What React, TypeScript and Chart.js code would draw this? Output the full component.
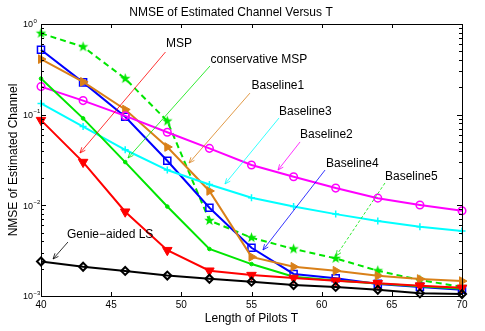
import React, { useEffect, useRef } from 'react';
import { Chart, registerables } from 'chart.js';

Chart.register(...registerables);

// ---------- data ----------
const pilotLengths = [40, 43, 46, 49, 52, 55, 58, 61, 64, 67, 70];
const msp = [0.087, 0.030, 0.0085, 0.0032, 0.0019, 0.0017, 0.00158, 0.00147, 0.00138, 0.0013, 0.00123];
const conservativeMsp = [0.25, 0.091, 0.030, 0.0097, 0.0033, 0.00225, 0.00163, 0.00148, 0.00137, 0.00128, 0.0012];
const baseline1 = [0.41, 0.23, 0.114, 0.044, 0.0144, 0.0027, 0.0021, 0.0019, 0.00167, 0.00154, 0.00146];
const baseline2 = [0.204, 0.143, 0.097, 0.064, 0.0425, 0.0279, 0.0207, 0.0155, 0.012, 0.0101, 0.0087];
const baseline3 = [0.133, 0.074, 0.041, 0.0245, 0.017, 0.0121, 0.0097, 0.008, 0.0067, 0.0058, 0.0052];
const baseline4 = [0.52, 0.227, 0.095, 0.031, 0.0094, 0.0034, 0.00175, 0.00157, 0.00136, 0.00126, 0.00117];
const baseline5 = [0.79, 0.56, 0.25, 0.085, 0.0068, 0.0044, 0.0033, 0.0026, 0.0019, 0.0015, 0.00126];
const genieLs = [0.0024, 0.0021, 0.00189, 0.00168, 0.00155, 0.00144, 0.00132, 0.00126, 0.00117, 0.00107, 0.00105];

const xTickValues = [40, 45, 50, 55, 60, 65, 70];
const yTickExponents = [0, -1, -2, -3];

// annotations (data coordinates)
const annotLabels = ['MSP', 'conservative MSP', 'Baseline1', 'Baseline3', 'Baseline2', 'Baseline4', 'Baseline5', 'Genie\u2212aided LS'];
const annotTextX = [48.91, 52.08, 55.0, 56.96, 58.46, 60.31, 64.51, 41.85];
const annotTextY = [0.602, 0.401, 0.207, 0.107, 0.0597, 0.0286, 0.0205, 0.00471];
const arrowFromX = [48.87, 52.04, 54.89, 56.96, 58.46, 60.24, 64.51, 41.92];
const arrowFromY = [0.491, 0.344, 0.173, 0.0919, 0.05, 0.0245, 0.01763, 0.00394];
const arrowToX = [42.78, 46.2, 50.55, 53.11, 56.89, 55.82, 61.02, 40.86];
const arrowToY = [0.0378, 0.0333, 0.0293, 0.0172, 0.0245, 0.00322, 0.00276, 0.00256];

const RED = '#ff0000';
const GREEN = '#00e600';
const ORANGE = '#d98019';
const CYAN = '#00ffff';
const MAGENTA = '#ff00ff';
const BLUE = '#0000ff';
const BLACK = '#000000';
const annotColors = [RED, GREEN, ORANGE, CYAN, MAGENTA, BLUE, GREEN, BLACK];
const annotDashed = [false, false, false, false, false, false, true, false];

const FONT = '"Liberation Sans", Arial, Helvetica, sans-serif';

function makeStar(color: string, r: number) {
  const c = document.createElement('canvas');
  const s = Math.ceil(r * 2 + 2);
  c.width = s;
  c.height = s;
  const g = c.getContext('2d')!;
  g.fillStyle = color;
  g.beginPath();
  for (let i = 0; i < 10; i++) {
    const rad = i % 2 === 0 ? r : r * 0.42;
    const a = -Math.PI / 2 + (i * Math.PI) / 5;
    g.lineTo(s / 2 + rad * Math.cos(a), s / 2 + rad * Math.sin(a));
  }
  g.closePath();
  g.fill();
  return c;
}

const decorPlugin = {
  id: 'matlabDecor',
  afterDatasetsDraw(chart: any) {
    const { ctx, chartArea, scales } = chart;
    const { left, right, top, bottom } = chartArea;
    const x = scales.x;
    const y = scales.y;
    ctx.save();
    // box
    ctx.strokeStyle = '#000';
    ctx.lineWidth = 1;
    ctx.strokeRect(Math.round(left) + 0.5, Math.round(top) + 0.5, Math.round(right - left), Math.round(bottom - top));
    // x ticks (inward, top & bottom)
    ctx.beginPath();
    xTickValues.forEach((v) => {
      const px = Math.round(x.getPixelForValue(v)) + 0.5;
      ctx.moveTo(px, bottom);
      ctx.lineTo(px, bottom - 4);
      ctx.moveTo(px, top);
      ctx.lineTo(px, top + 4);
    });
    // y ticks major/minor on left & right
    yTickExponents.forEach((e) => {
      const py = Math.round(y.getPixelForValue(Math.pow(10, e))) + 0.5;
      ctx.moveTo(left, py);
      ctx.lineTo(left + 5, py);
      ctx.moveTo(right, py);
      ctx.lineTo(right - 5, py);
      if (e < 0) {
        for (let m = 2; m <= 9; m++) {
          const pm = Math.round(y.getPixelForValue(m * Math.pow(10, e))) + 0.5;
          ctx.moveTo(left, pm);
          ctx.lineTo(left + 3, pm);
          ctx.moveTo(right, pm);
          ctx.lineTo(right - 3, pm);
        }
      }
    });
    ctx.stroke();

    // y tick labels 10^e
    ctx.fillStyle = '#000';
    yTickExponents.forEach((e) => {
      const py = y.getPixelForValue(Math.pow(10, e));
      ctx.font = `9px ${FONT}`;
      ctx.textAlign = 'right';
      ctx.textBaseline = 'middle';
      ctx.fillText('10', 33, py + 1);
      ctx.font = `6px ${FONT}`;
      ctx.textAlign = 'left';
      ctx.fillText(e === 0 ? '0' : '\u2212' + String(-e), 33.5, py - 3);
    });

    // annotations
    annotLabels.forEach((label, i) => {
      const fx = x.getPixelForValue(arrowFromX[i]);
      const fy = y.getPixelForValue(arrowFromY[i]);
      const tx = x.getPixelForValue(arrowToX[i]);
      const ty = y.getPixelForValue(arrowToY[i]);
      ctx.strokeStyle = annotColors[i];
      ctx.fillStyle = annotColors[i];
      ctx.lineWidth = 0.8;
      ctx.setLineDash(annotDashed[i] ? [3, 2] : []);
      ctx.beginPath();
      ctx.moveTo(fx, fy);
      ctx.lineTo(tx, ty);
      ctx.stroke();
      ctx.setLineDash([]);
      const ang = Math.atan2(ty - fy, tx - fx);
      const hl = 6;
      const hw = 0.4;
      ctx.beginPath();
      ctx.moveTo(tx, ty);
      ctx.lineTo(tx - hl * Math.cos(ang - hw), ty - hl * Math.sin(ang - hw));
      ctx.moveTo(tx, ty);
      ctx.lineTo(tx - hl * Math.cos(ang + hw), ty - hl * Math.sin(ang + hw));
      ctx.stroke();
      const lx = x.getPixelForValue(annotTextX[i]);
      const ly = y.getPixelForValue(annotTextY[i]);
      ctx.fillStyle = '#000';
      ctx.font = `12px ${FONT}`;
      ctx.textAlign = 'left';
      ctx.textBaseline = 'middle';
      ctx.fillText(label, lx, ly);
    });
    ctx.restore();
  },
};

export default function App() {
  const canvasRef = useRef<HTMLCanvasElement | null>(null);

  useEffect(() => {
    const canvas = canvasRef.current;
    if (!canvas) return;
    const star = makeStar(GREEN, 5.5);
    const mk = (data: number[]) => data.map((v, i) => ({ x: pilotLengths[i], y: v }));
    const chart = new Chart(canvas, {
      type: 'line',
      data: {
        datasets: [
          {
            label: 'Genie-aided LS',
            data: mk(genieLs),
            borderColor: BLACK,
            borderWidth: 2,
            pointStyle: 'rectRot',
            pointRadius: 4,
            pointBorderWidth: 2,
            pointBackgroundColor: 'rgba(0,0,0,0)',
            pointBorderColor: BLACK,
            clip: false,
          },
          {
            label: 'MSP',
            data: mk(msp),
            borderColor: RED,
            borderWidth: 2,
            pointStyle: 'triangle',
            rotation: 180,
            pointRadius: 5.5,
            pointBorderWidth: 1,
            pointBackgroundColor: RED,
            pointBorderColor: RED,
            clip: false,
          },
          {
            label: 'conservative MSP',
            data: mk(conservativeMsp),
            borderColor: GREEN,
            borderWidth: 2,
            pointStyle: 'circle',
            pointRadius: 1.8,
            pointBorderWidth: 1,
            pointBackgroundColor: GREEN,
            pointBorderColor: GREEN,
            clip: false,
          },
          {
            label: 'Baseline3',
            data: mk(baseline3),
            borderColor: CYAN,
            borderWidth: 2,
            pointStyle: 'cross',
            pointRadius: 3.5,
            pointBorderWidth: 1.5,
            pointBackgroundColor: CYAN,
            pointBorderColor: CYAN,
            clip: false,
          },
          {
            label: 'Baseline2',
            data: mk(baseline2),
            borderColor: MAGENTA,
            borderWidth: 2,
            pointStyle: 'circle',
            pointRadius: 3.8,
            pointBorderWidth: 1.5,
            pointBackgroundColor: 'rgba(0,0,0,0)',
            pointBorderColor: MAGENTA,
            clip: false,
          },
          {
            label: 'Baseline1',
            data: mk(baseline1),
            borderColor: ORANGE,
            borderWidth: 2,
            pointStyle: 'triangle',
            rotation: 90,
            pointRadius: 5,
            pointBorderWidth: 1,
            pointBackgroundColor: ORANGE,
            pointBorderColor: ORANGE,
            clip: false,
          },
          {
            label: 'Baseline4',
            data: mk(baseline4),
            borderColor: BLUE,
            borderWidth: 2,
            pointStyle: 'rect',
            pointRadius: 5,
            pointBorderWidth: 1.5,
            pointBackgroundColor: 'rgba(0,0,0,0)',
            pointBorderColor: BLUE,
            clip: false,
          },
          {
            label: 'Baseline5',
            data: mk(baseline5),
            borderColor: GREEN,
            borderWidth: 2,
            borderDash: [6, 4],
            pointStyle: star as any,
            pointRadius: 5.5,
            pointBackgroundColor: GREEN,
            pointBorderColor: GREEN,
            clip: false,
          },
        ],
      },
      options: {
        responsive: false,
        animation: false,
        layout: { padding: { left: 0, right: 23, top: 0, bottom: 0 } },
        plugins: {
          legend: { display: false },
          tooltip: { enabled: false },
          title: {
            display: true,
            text: 'NMSE of Estimated Channel Versus T',
            color: '#000',
            font: { family: FONT, size: 12, weight: 'normal', lineHeight: 1.2 },
            padding: { top: 5, bottom: 4.6 },
          },
        },
        scales: {
          x: {
            type: 'linear',
            min: 40,
            max: 70,
            grid: { display: false, drawTicks: false },
            border: { display: false },
            ticks: {
              stepSize: 5,
              color: '#000',
              font: { family: FONT, size: 10 },
              padding: 3,
              maxRotation: 0,
            },
            title: {
              display: true,
              text: 'Length of Pilots T',
              color: '#000',
              font: { family: FONT, size: 12, lineHeight: 1.2 },
              padding: { top: 0, bottom: 5 },
            },
            afterFit: (s: any) => {
              s.height = 35;
            },
          },
          y: {
            type: 'logarithmic',
            min: 0.001,
            max: 1,
            grid: { display: false, drawTicks: false },
            border: { display: false },
            ticks: { display: false },
            title: {
              display: true,
              text: 'NMSE of Estimated Channel',
              color: '#000',
              font: { family: FONT, size: 12, lineHeight: 1.2 },
              padding: { top: 6, bottom: 0 },
            },
            afterFit: (s: any) => {
              s.width = 41;
            },
          },
        },
      } as any,
      plugins: [decorPlugin],
    });
    return () => chart.destroy();
  }, []);

  return (
    <canvas
      ref={canvasRef}
      width={485}
      height={331}
      style={{ position: 'absolute', left: 0, top: 0, width: 485, height: 331, background: '#fff' }}
    />
  );
}
